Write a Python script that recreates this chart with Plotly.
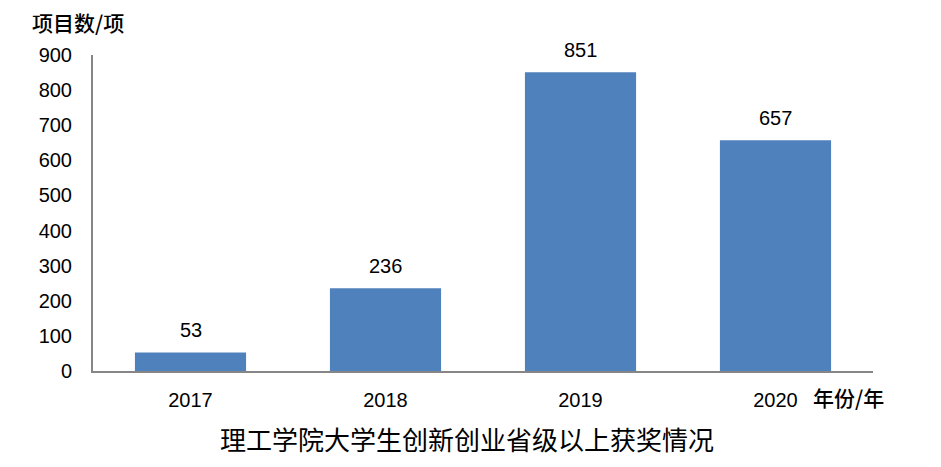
import plotly.graph_objects as go

years = ["2017", "2018", "2019", "2020"]
counts = [53, 236, 851, 657]
y_ticks = [0, 100, 200, 300, 400, 500, 600, 700, 800, 900]

title_text = "理工学院大学生创新创业省级以上获奖情况"
y_title = "项目数/项"
x_title = "年份/年"

num_font = "Liberation Sans, Arial, sans-serif"
cjk_font = "Noto Sans CJK SC"

fig = go.Figure()
fig.add_trace(go.Bar(
    x=years, y=counts,
    marker=dict(color="#4F81BD", line=dict(width=0)),
    width=0.57,
))

for i, v in enumerate(counts):
    fig.add_annotation(x=i, y=v, text=str(v), showarrow=False,
                       yanchor="bottom", yshift=9,
                       font=dict(family=num_font, size=20, color="#000000"))

fig.add_annotation(xref="paper", yref="paper", x=-0.081, y=1.0,
                   xanchor="left", yanchor="middle", yshift=33,
                   text=y_title, showarrow=False,
                   font=dict(family=cjk_font, size=21, color="#000000", weight=500))
fig.add_annotation(xref="paper", yref="paper", x=0.968, y=0.0,
                   xanchor="center", yanchor="middle", yshift=-26,
                   text=x_title, showarrow=False,
                   font=dict(family=cjk_font, size=21, color="#000000", weight=500))
fig.add_annotation(xref="paper", yref="paper", x=0.48, y=0.0,
                   xanchor="center", yanchor="middle", yshift=-67,
                   text=title_text, showarrow=False,
                   font=dict(family=cjk_font, size=26, color="#000000"))

fig.update_layout(
    width=941, height=467,
    margin=dict(l=85, r=76, t=47, b=104),
    paper_bgcolor="white", plot_bgcolor="white",
    showlegend=False,
    bargap=0.43,
)
fig.update_xaxes(
    type="category", range=[-0.5, 3.5], automargin=False,
    showline=True, linecolor="#868686", linewidth=2,
    showgrid=False, ticks="", ticklabelstandoff=10,
    tickfont=dict(family=num_font, size=20, color="#000000"),
    zeroline=False,
)
fig.update_yaxes(
    range=[0, 900], tickvals=y_ticks, automargin=False,
    showline=True, linecolor="#868686",
    linewidth=2, showgrid=False, ticks="", ticklabelstandoff=15,
    tickfont=dict(family=num_font, size=20, color="#000000"),
    zeroline=False,
)

fig.write_html("out.html")
